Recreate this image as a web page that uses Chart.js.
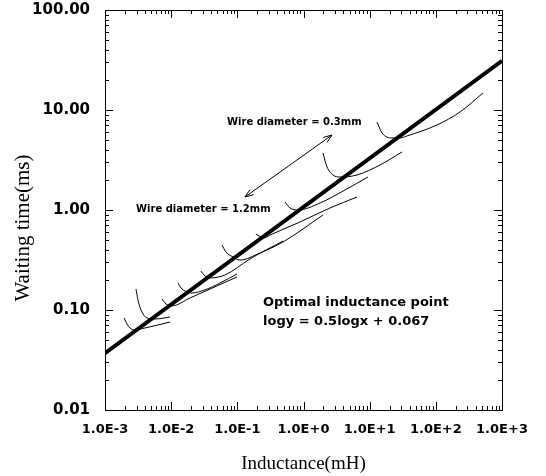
<!DOCTYPE html>
<html>
<head>
<meta charset="utf-8">
<script src="https://cdn.jsdelivr.net/npm/chart.js@4.4.1/dist/chart.umd.min.js"></script>
<style>
body{margin:0;background:#fff;}
</style>
</head>
<body>
<canvas id="chart" width="546" height="476"></canvas>
<script>
var xTicks = [1e-3, 1e-2, 1e-1, 1, 10, 100, 1000];
var xTickLabels = ['1.0E-3', '1.0E-2', '1.0E-1', '1.0E+0', '1.0E+1', '1.0E+2', '1.0E+3'];
var yTicks = [0.01, 0.1, 1, 10, 100];
var yTickLabels = ['0.01', '0.10', '1.00', '10.00', '100.00'];

// optimal inductance line, logy = 0.5logx + 0.067
var optX = [0.001, 1000];
var optY = [0.037, 31];

// waiting time curves (one per wire diameter, 1.2mm at left -> 0.3mm at right)
var c1x = [0.00194, 0.00215, 0.00239, 0.00274, 0.00402, 0.00632, 0.0096];
var c1y = [0.0832, 0.0724, 0.0661, 0.0631, 0.0661, 0.0708, 0.0759];
var c2x = [0.00294, 0.00315, 0.0035, 0.00431, 0.0057, 0.0096];
var c2y = [0.162, 0.126, 0.100, 0.0832, 0.0813, 0.0851];
var c3x = [0.00727, 0.00835, 0.0103, 0.0193, 0.0386, 0.0988];
var c3y = [0.129, 0.115, 0.110, 0.132, 0.162, 0.214];
var c4x = [0.0127, 0.0141, 0.0162, 0.0206, 0.0325, 0.0547, 0.0988];
var c4y = [0.186, 0.166, 0.155, 0.148, 0.159, 0.186, 0.229];
var c5x = [0.0282, 0.0313, 0.0373, 0.0651, 0.155, 0.490];
var c5y = [0.245, 0.224, 0.209, 0.224, 0.324, 0.490];
var c6x = [0.0586, 0.0674, 0.086, 0.110, 0.220, 0.490, 1.97];
var c6y = [0.447, 0.380, 0.339, 0.316, 0.372, 0.479, 0.891];
var c7x = [0.191, 0.213, 0.253, 0.312, 0.885, 2.51, 6.43];
var c7y = [0.575, 0.550, 0.525, 0.562, 0.759, 1.047, 1.349];
var c8x = [0.525, 0.625, 0.825, 1.78, 4.24, 9.43];
var c8y = [1.202, 1.047, 1.0, 1.175, 1.585, 2.138];
var c9x = [1.97, 2.27, 2.79, 3.56, 6.43, 14.3, 30.8];
var c9y = [3.715, 2.692, 2.239, 2.138, 2.239, 2.818, 3.802];
var c10x = [12.9, 15.4, 21.7, 28.7, 36.6, 104, 232, 516];
var c10y = [7.59, 5.89, 5.25, 5.25, 5.50, 7.08, 9.55, 14.8];

function pts(xs, ys) {
  return xs.map(function (x, i) { return {x: x, y: ys[i]}; });
}

var curves = [[c1x, c1y], [c2x, c2y], [c3x, c3y], [c4x, c4y], [c5x, c5y],
              [c6x, c6y], [c7x, c7y], [c8x, c8y], [c9x, c9y], [c10x, c10y]];

var datasets = [{
  data: pts(optX, optY),
  borderColor: '#000',
  borderWidth: 4,
  pointRadius: 0,
  tension: 0
}];
curves.forEach(function (c) {
  datasets.push({
    data: pts(c[0], c[1]),
    borderColor: '#000',
    borderWidth: 1,
    pointRadius: 0,
    cubicInterpolationMode: 'monotone'
  });
});

// frame, inward ticks, arrow, notes and the y title
var decor = {
  id: 'decor',
  afterDatasetsDraw: function (chart) {
    var ctx = chart.ctx, a = chart.chartArea;
    var xs = chart.scales.x, ys = chart.scales.y;
    ctx.save();
    ctx.strokeStyle = '#000';
    ctx.lineWidth = 1;
    ctx.strokeRect(a.left + 0.5, a.top + 0.5, a.right - a.left, a.bottom - a.top);

    ctx.beginPath();
    xTicks.forEach(function (d) {
      for (var m = 1; m < 10; m++) {
        if (d * m > 1000) break;
        var px = Math.round(xs.getPixelForValue(d * m)) + 0.5;
        var len = m == 1 ? 8 : 4;
        ctx.moveTo(px, a.bottom); ctx.lineTo(px, a.bottom - len);
        ctx.moveTo(px, a.top); ctx.lineTo(px, a.top + len);
      }
    });
    yTicks.forEach(function (d) {
      for (var m = 1; m < 10; m++) {
        if (d * m > 100) break;
        var py = Math.round(ys.getPixelForValue(d * m)) + 0.5;
        var len = m == 1 ? 8 : 4;
        ctx.moveTo(a.left, py); ctx.lineTo(a.left + len, py);
        ctx.moveTo(a.right, py); ctx.lineTo(a.right - len, py);
      }
    });
    ctx.stroke();

    // double headed arrow between the two wire notes
    var x1 = xs.getPixelForValue(0.1305), y1 = ys.getPixelForValue(1.35);
    var x2 = xs.getPixelForValue(2.70), y2 = ys.getPixelForValue(5.62);
    ctx.beginPath();
    ctx.moveTo(x1, y1); ctx.lineTo(x2, y2);
    var ang = Math.atan2(y2 - y1, x2 - x1);
    [[x2, y2, ang], [x1, y1, ang + Math.PI]].forEach(function (h) {
      ctx.moveTo(h[0] - 9 * Math.cos(h[2] - 0.35), h[1] - 9 * Math.sin(h[2] - 0.35));
      ctx.lineTo(h[0], h[1]);
      ctx.lineTo(h[0] - 9 * Math.cos(h[2] + 0.35), h[1] - 9 * Math.sin(h[2] + 0.35));
    });
    ctx.stroke();

    ctx.fillStyle = '#000';
    ctx.textAlign = 'left';
    ctx.textBaseline = 'middle';
    ctx.font = 'bold 10px "DejaVu Sans"';
    ctx.fillText('Wire diameter = 0.3mm', xs.getPixelForValue(0.0698), ys.getPixelForValue(7.59));
    ctx.fillText('Wire diameter = 1.2mm', xs.getPixelForValue(0.00294), ys.getPixelForValue(1.023));
    ctx.font = 'bold 13px "DejaVu Sans"';
    ctx.fillText('Optimal inductance point', xs.getPixelForValue(0.2443), ys.getPixelForValue(0.1175));
    ctx.fillText('logy = 0.5logx + 0.067', xs.getPixelForValue(0.2443), ys.getPixelForValue(0.0764));

    // y axis title, a little below the middle as in the original
    ctx.translate(23, ys.getPixelForValue(0.66));
    ctx.rotate(-Math.PI / 2);
    ctx.textAlign = 'center';
    ctx.font = '21px "Liberation Serif"';
    ctx.fillText('Waiting time(ms)', 0, 0);
    ctx.restore();
  }
};

Chart.defaults.font.family = '"DejaVu Sans"';
Chart.defaults.color = '#000';

new Chart(document.getElementById('chart').getContext('2d'), {
  type: 'scatter',
  data: {datasets: datasets},
  options: {
    responsive: false,
    animation: false,
    showLine: true,
    layout: {padding: {top: 10, right: 44, left: 0, bottom: 0}},
    plugins: {legend: {display: false}, tooltip: {enabled: false}},
    scales: {
      x: {
        type: 'logarithmic',
        min: 0.001,
        max: 1000,
        afterBuildTicks: function (s) { s.ticks = xTicks.map(function (v) { return {value: v}; }); },
        afterFit: function (s) { s.height = 66; s.paddingLeft = 0; s.paddingRight = 0; },
        grid: {display: false, drawTicks: false},
        border: {display: true, color: '#000', width: 1},
        ticks: {
          callback: function (v) { return xTickLabels[xTicks.indexOf(v)]; },
          font: {size: 13, weight: 'bold'},
          padding: 12,
          maxRotation: 0,
          autoSkip: false
        },
        title: {display: true, text: 'Inductance(mH)', font: {family: '"Liberation Serif"', size: 19}, padding: {top: 4, bottom: 1}}
      },
      y: {
        type: 'logarithmic',
        min: 0.01,
        max: 100,
        afterBuildTicks: function (s) { s.ticks = yTicks.map(function (v) { return {value: v}; }); },
        afterFit: function (s) { s.width = 105; s.paddingTop = 0; s.paddingBottom = 0; },
        grid: {display: false, drawTicks: false},
        border: {display: true, color: '#000', width: 1},
        ticks: {
          callback: function (v) { return yTickLabels[yTicks.indexOf(v)]; },
          font: {size: 15, weight: 'bold'},
          padding: 15,
          autoSkip: false
        },
        title: {display: false}
      }
    }
  },
  plugins: [decor]
});
</script>
</body>
</html>
